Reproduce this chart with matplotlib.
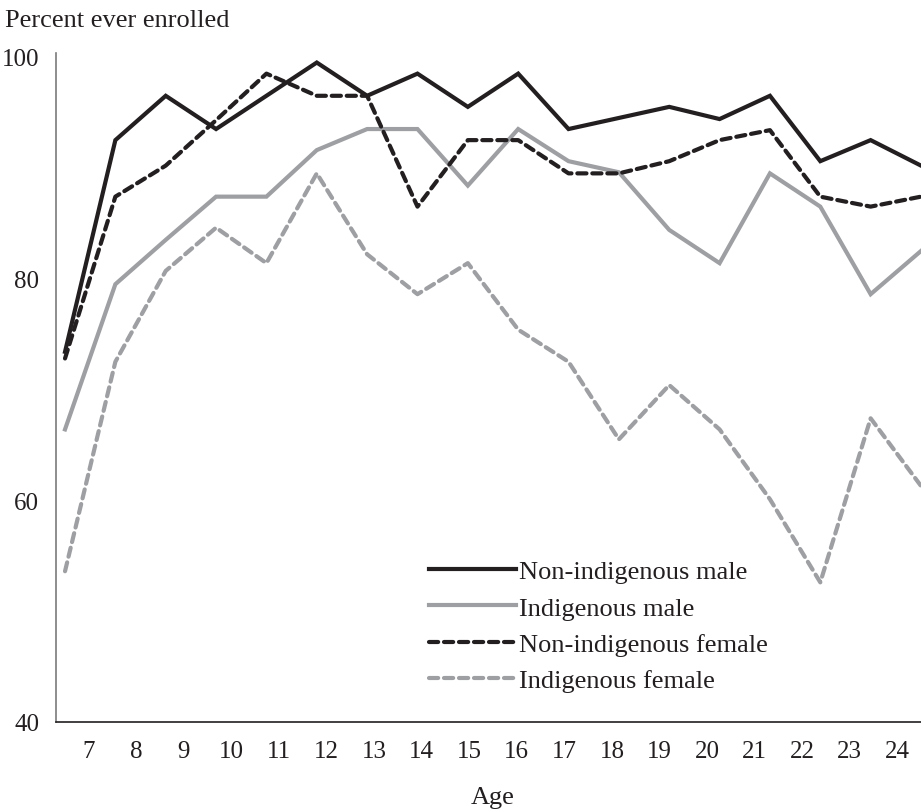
import numpy as np
import matplotlib
matplotlib.use("Agg")
import matplotlib.pyplot as plt

plt.rcParams['font.family'] = ['Liberation Serif', 'DejaVu Serif']

ages = list(range(7, 25))
non_indig_male = [73.4, 92.5, 96.5, 93.5, 96.5, 99.5, 96.5, 98.5, 95.5, 98.5, 93.5, 94.5, 95.5, 94.4, 96.5, 90.6, 92.5, 90.2]
indig_male = [66.4, 79.5, 83.5, 87.4, 87.4, 91.6, 93.5, 93.5, 88.4, 93.5, 90.6, 89.6, 84.4, 81.4, 89.5, 86.5, 78.6, 82.5]
non_indig_female = [72.8, 87.4, 90.2, 94.3, 98.5, 96.5, 96.5, 86.5, 92.5, 92.5, 89.5, 89.5, 90.6, 92.5, 93.4, 87.4, 86.5, 87.4]
indig_female = [53.6, 72.5, 80.7, 84.6, 81.4, 89.5, 82.2, 78.6, 81.4, 75.4, 72.5, 65.5, 70.4, 66.4, 60.1, 52.6, 67.4, 61.3]

dark = '#231f20'
grey = '#9d9fa2'

fig = plt.figure(figsize=(9.21, 8.12), dpi=100)
ax = fig.add_axes([56 / 921, 1 - 723 / 812, 1 - 56 / 921, (723 - 58) / 812])

x = np.arange(len(ages))
lw = 3.0
ax.plot(x, non_indig_male, color=dark, lw=lw, label='Non-indigenous male', solid_joinstyle='miter')
ax.plot(x, indig_male, color=grey, lw=lw, label='Indigenous male', solid_joinstyle='miter')
ax.plot(x, non_indig_female, color=dark, lw=lw, ls=(0, (2.2, 1.4)), dash_capstyle='round',
        label='Non-indigenous female')
ax.plot(x, indig_female, color=grey, lw=lw, ls=(0, (2.2, 1.4)), dash_capstyle='round',
        label='Indigenous female')

n = len(ages)
ax.set_xlim(-0.179, n - 1)
ax.set_ylim(40, 100)
# category labels sit in the middle of 18 equal bins across the data span
ax.set_xticks((np.arange(n) + 0.5) * (n - 1) / n)
ax.set_xticklabels([str(a) for a in ages])
ax.set_yticks([40, 60, 80, 100])
ax.tick_params(axis='both', length=0, labelsize=18, colors=dark)
ax.tick_params(axis='x', pad=13)
ax.tick_params(axis='y', pad=12)

for s in ['top', 'right']:
    ax.spines[s].set_visible(False)
ax.spines['left'].set_color('#7a7a7a')
ax.spines['left'].set_linewidth(1.2)
ax.spines['left'].set_bounds(40, 100.4)
ax.spines['bottom'].set_color(dark)
ax.spines['bottom'].set_linewidth(1.2)

ax.set_xlabel('Age', fontsize=19, color=dark, labelpad=17, x=(493 - 56) / (921 - 56))
fig.text(5 / 921, 1 - 21 / 812, 'Percent ever enrolled', fontsize=19, color=dark,
         ha='left', va='center')

leg = ax.legend(loc='upper left', bbox_to_anchor=(429 / 921, 1 - 561 / 812),
                bbox_transform=fig.transFigure, frameon=False, fontsize=19,
                handlelength=3.3, handletextpad=0.1, labelspacing=0.48, borderpad=0,
                borderaxespad=0)
for t in leg.get_texts():
    t.set_color(dark)

fig.savefig('out.png', dpi=100)
